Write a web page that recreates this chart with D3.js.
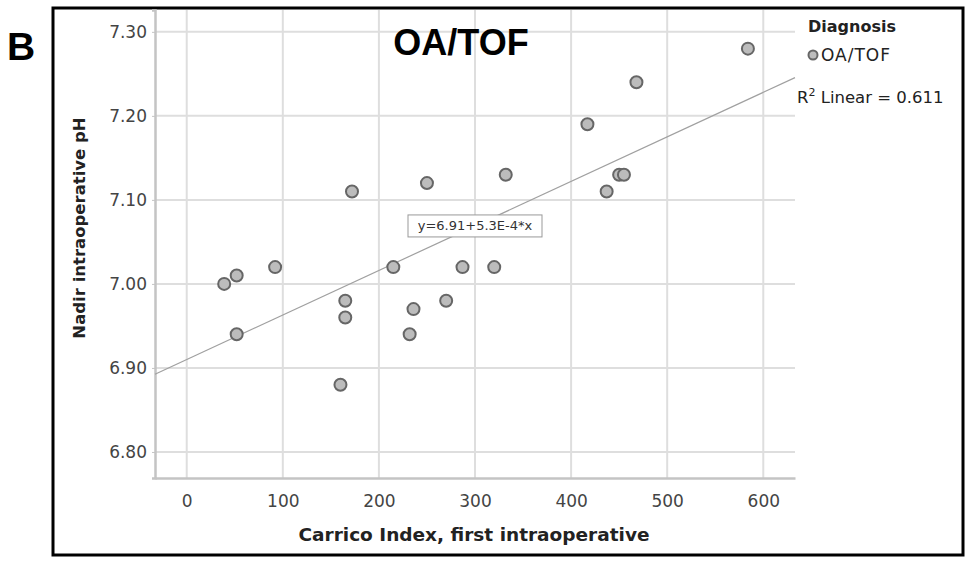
<!doctype html>
<html>
<head>
    <style>
        body { margin: 0; background: #fff; }
        text { font-family: "DejaVu Sans", sans-serif; }
        .grid line { stroke: #dedede; stroke-width: 2; }
        .dot { fill: #bcbcbc; stroke: #666; stroke-width: 2; }
    </style>
    <script src="https://cdn.jsdelivr.net/npm/d3@7"></script>
</head>
<body>
<svg width="968" height="563"></svg>
<script>

    // data
    var carrico = [172, 250, 215, 287, 52, 39, 92, 165, 165, 236, 270, 232, 52, 160,
                   584, 468, 417, 332, 450, 455, 437, 320];
    var nadirPH = [7.11, 7.12, 7.02, 7.02, 7.01, 7.00, 7.02, 6.98, 6.96, 6.97, 6.98, 6.94, 6.94, 6.88,
                   7.28, 7.24, 7.19, 7.13, 7.13, 7.13, 7.11, 7.02];
    var xTicks = [0, 100, 200, 300, 400, 500, 600];
    var yTicks = [6.80, 6.90, 7.00, 7.10, 7.20, 7.30];
    var fitIntercept = 6.91,
        fitSlope = 5.3e-4,
        rSquared = "0.611";

    var svg = d3.select("svg"),
        plotLeft = 155, plotRight = 795, plotTop = 10, plotBottom = 478;

    var xScale = d3.scaleLinear().domain([-33, 633]).range([plotLeft, plotRight]),
        yScale = d3.scaleLinear().domain([6.769, 7.326]).range([plotBottom, plotTop]);

    // outer frame
    svg.append("rect")
       .attr("x", 53).attr("y", 8)
       .attr("width", 910).attr("height", 547)
       .attr("fill", "none")
       .attr("stroke", "#000")
       .attr("stroke-width", 3);

    // grid
    var grid = svg.append("g").attr("class", "grid");
    grid.selectAll(".gx")
        .data(xTicks)
        .enter().append("line")
        .attr("x1", function(d) { return xScale(d); })
        .attr("x2", function(d) { return xScale(d); })
        .attr("y1", plotTop).attr("y2", plotBottom);
    grid.selectAll(".gy")
        .data(yTicks)
        .enter().append("line")
        .attr("y1", function(d) { return yScale(d); })
        .attr("y2", function(d) { return yScale(d); })
        .attr("x1", plotLeft).attr("x2", plotRight);

    // axes
    var xAxis = svg.append("g")
       .attr("transform", "translate(0," + plotBottom + ")")
       .call(d3.axisBottom(xScale).tickValues(xTicks).tickSize(0).tickPadding(17));
    var yAxis = svg.append("g")
       .attr("transform", "translate(" + plotLeft + ",0)")
       .call(d3.axisLeft(yScale).tickValues(yTicks).tickFormat(d3.format(".2f")).tickSize(3).tickPadding(5));

    [xAxis, yAxis].forEach(function(a) {
        a.select(".domain").attr("stroke", "#c4c4c4").attr("stroke-width", 2.5);
        a.selectAll(".tick line").attr("stroke", "#c4c4c4");
        a.selectAll(".tick text")
         .attr("fill", "#444")
         .style("font-family", "DejaVu Sans")
         .style("font-size", "17px");
    });

    // fit line
    var fit = function(x) { return fitIntercept + fitSlope * x; };
    var xd = xScale.domain();
    svg.append("line")
       .attr("x1", xScale(xd[0])).attr("y1", yScale(fit(xd[0])))
       .attr("x2", xScale(xd[1])).attr("y2", yScale(fit(xd[1])))
       .attr("stroke", "#a0a0a0")
       .attr("stroke-width", 1.2);

    // equation label
    var eq = svg.append("g")
       .attr("transform", "translate(" + xScale(300) + "," + yScale(fit(300)) + ")");
    eq.append("rect")
       .attr("x", -67).attr("y", -11)
       .attr("width", 134).attr("height", 22)
       .attr("fill", "#fff")
       .attr("stroke", "#999")
       .attr("stroke-width", 1);
    eq.append("text")
       .attr("text-anchor", "middle")
       .attr("dy", "0.35em")
       .attr("font-size", "13px")
       .attr("fill", "#333")
       .text("y=6.91+5.3E-4*x");

    // points
    svg.selectAll(".dot")
       .data(carrico)
       .enter().append("circle")
       .attr("class", "dot")
       .attr("cx", function(d) { return xScale(d); })
       .attr("cy", function(d, i) { return yScale(nadirPH[i]); })
       .attr("r", 6);

    // axis titles
    svg.append("text")
       .attr("x", 474).attr("y", 541)
       .attr("text-anchor", "middle")
       .attr("font-weight", "bold")
       .attr("font-size", "18.5px")
       .attr("fill", "#222")
       .text("Carrico Index, first intraoperative");

    svg.append("text")
       .attr("transform", "translate(85,228) rotate(-90)")
       .attr("text-anchor", "middle")
       .attr("font-weight", "bold")
       .attr("font-size", "16.5px")
       .attr("fill", "#222")
       .text("Nadir intraoperative pH");

    // panel letter and title
    svg.append("text")
       .attr("x", 7).attr("y", 60)
       .style("font-family", "Liberation Sans")
       .attr("font-weight", "bold")
       .attr("font-size", "39px")
       .text("B");

    svg.append("text")
       .attr("x", 461).attr("y", 55)
       .attr("text-anchor", "middle")
       .style("font-family", "Liberation Sans")
       .attr("font-weight", "bold")
       .attr("font-size", "36px")
       .text("OA/TOF");

    // legend
    svg.append("text")
       .attr("x", 808).attr("y", 32)
       .attr("font-weight", "bold")
       .attr("font-size", "16px")
       .attr("fill", "#222")
       .text("Diagnosis");
    svg.append("circle")
       .attr("class", "dot")
       .attr("cx", 813).attr("cy", 55)
       .attr("r", 4.5)
       .attr("stroke-width", 1.5);
    svg.append("text")
       .attr("x", 821).attr("y", 61)
       .attr("font-size", "17px")
       .attr("letter-spacing", "1px")
       .attr("fill", "#222")
       .text("OA/TOF");

    var r2 = svg.append("text")
       .attr("x", 797).attr("y", 103)
       .attr("font-size", "16.5px")
       .attr("fill", "#222");
    r2.append("tspan").text("R");
    r2.append("tspan").attr("dy", -7).attr("font-size", "11px").text("2");
    r2.append("tspan").attr("dy", 7).text(" Linear = " + rSquared);

</script>
</body>
</html>
